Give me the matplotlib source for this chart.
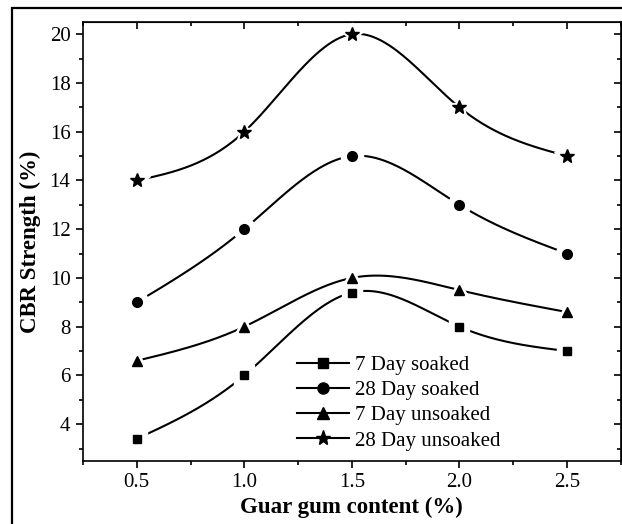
import numpy as np
import matplotlib.pyplot as plt
from matplotlib.lines import Line2D
from matplotlib.patches import Rectangle
from matplotlib.ticker import MultipleLocator

plt.rcParams['font.family'] = ['Liberation Serif', 'DejaVu Serif']

# data
guar_gum = [0.5, 1.0, 1.5, 2.0, 2.5]
soaked_7 = [3.4, 6.0, 9.4, 8.0, 7.0]
soaked_28 = [9.0, 12.0, 15.0, 13.0, 11.0]
unsoaked_7 = [6.6, 8.0, 10.0, 9.5, 8.6]
unsoaked_28 = [14.0, 16.0, 20.0, 17.0, 15.0]

series = [
    ('7 Day soaked', soaked_7, 's', 6),
    ('28 Day soaked', soaked_28, 'o', 7),
    ('7 Day unsoaked', unsoaked_7, '^', 7.5),
    ('28 Day unsoaked', unsoaked_28, '*', 10),
]


def natural_spline(x, y, n=300):
    # plain natural cubic spline, just for drawing the smooth connecting curve
    x = np.asarray(x, float)
    y = np.asarray(y, float)
    k = len(x)
    h = np.diff(x)
    A = np.zeros((k, k))
    b = np.zeros(k)
    A[0, 0] = A[-1, -1] = 1
    for i in range(1, k - 1):
        A[i, i - 1] = h[i - 1]
        A[i, i] = 2 * (h[i - 1] + h[i])
        A[i, i + 1] = h[i]
        b[i] = 6 * ((y[i + 1] - y[i]) / h[i] - (y[i] - y[i - 1]) / h[i - 1])
    M = np.linalg.solve(A, b)
    xs = np.linspace(x[0], x[-1], n)
    idx = np.clip(np.searchsorted(x, xs) - 1, 0, k - 2)
    x0, x1 = x[idx], x[idx + 1]
    hh = x1 - x0
    ys = (M[idx] * (x1 - xs) ** 3 / (6 * hh) + M[idx + 1] * (xs - x0) ** 3 / (6 * hh)
          + (y[idx] / hh - M[idx] * hh / 6) * (x1 - xs)
          + (y[idx + 1] / hh - M[idx + 1] * hh / 6) * (xs - x0))
    return xs, ys


fig = plt.figure(figsize=(6.22, 5.24), dpi=100)
ax = fig.add_axes([0.1334, 0.1208, 0.8646, 0.8372])

handles = []
for label, vals, mk, ms in series:
    xs, ys = natural_spline(guar_gum, vals)
    ax.plot(xs, ys, color='black', lw=1.5, zorder=1)
    # white halo gives the small gap between curve and marker
    ax.plot(guar_gum, vals, ls='none', marker=mk, ms=ms + 9, color='white', zorder=2)
    ax.plot(guar_gum, vals, ls='none', marker=mk, ms=ms, color='black', zorder=3)
    handles.append(Line2D([], [], color='black', lw=1.5, marker=mk, ms=ms + 1, label=label))

ax.set_xlim(0.25, 2.75)
ax.set_ylim(2.5, 20.5)
ax.xaxis.set_major_locator(MultipleLocator(0.5))
ax.xaxis.set_minor_locator(MultipleLocator(0.25))
ax.yaxis.set_major_locator(MultipleLocator(2))
ax.yaxis.set_minor_locator(MultipleLocator(1))
ax.set_xticks([0.5, 1.0, 1.5, 2.0, 2.5])
ax.set_xticklabels(['0.5', '1.0', '1.5', '2.0', '2.5'])

ax.tick_params(which='both', direction='out', width=1.2, labelsize=15, pad=4)
ax.tick_params(which='major', length=5)
ax.tick_params(which='minor', length=3)
for s in ax.spines.values():
    s.set_linewidth(1.2)

# mirrored ticks on top and right, pointing inwards
sec_x = ax.secondary_xaxis('top')
sec_x.xaxis.set_major_locator(MultipleLocator(0.5))
sec_x.xaxis.set_minor_locator(MultipleLocator(0.25))
sec_x.tick_params(which='both', direction='in', labeltop=False, width=1.2)
sec_x.tick_params(which='major', length=5)
sec_x.tick_params(which='minor', length=3)
sec_y = ax.secondary_yaxis('right')
sec_y.yaxis.set_major_locator(MultipleLocator(2))
sec_y.yaxis.set_minor_locator(MultipleLocator(1))
sec_y.tick_params(which='both', direction='in', labelright=False, width=1.2)
sec_y.tick_params(which='major', length=5)
sec_y.tick_params(which='minor', length=3)

ax.set_xlabel('Guar gum content (%)', fontsize=16.5, fontweight='bold', labelpad=3)
ax.set_ylabel('CBR Strength (%)', fontsize=16.5, fontweight='bold', labelpad=6)

ax.legend(handles=handles, loc='lower left', bbox_to_anchor=(0.382, 0.004),
          frameon=False, fontsize=15, handlelength=2.5, handletextpad=0.3,
          labelspacing=0.27, borderaxespad=0)

# outer frame of the original figure (cut off at right and bottom)
fig.patches.append(Rectangle((11.5 / 622, -0.05), 1.2, (524 - 7.5) / 524 + 0.05,
                             transform=fig.transFigure, fill=False,
                             edgecolor='black', lw=1.6, zorder=0))

fig.savefig('out.png', dpi=100)
